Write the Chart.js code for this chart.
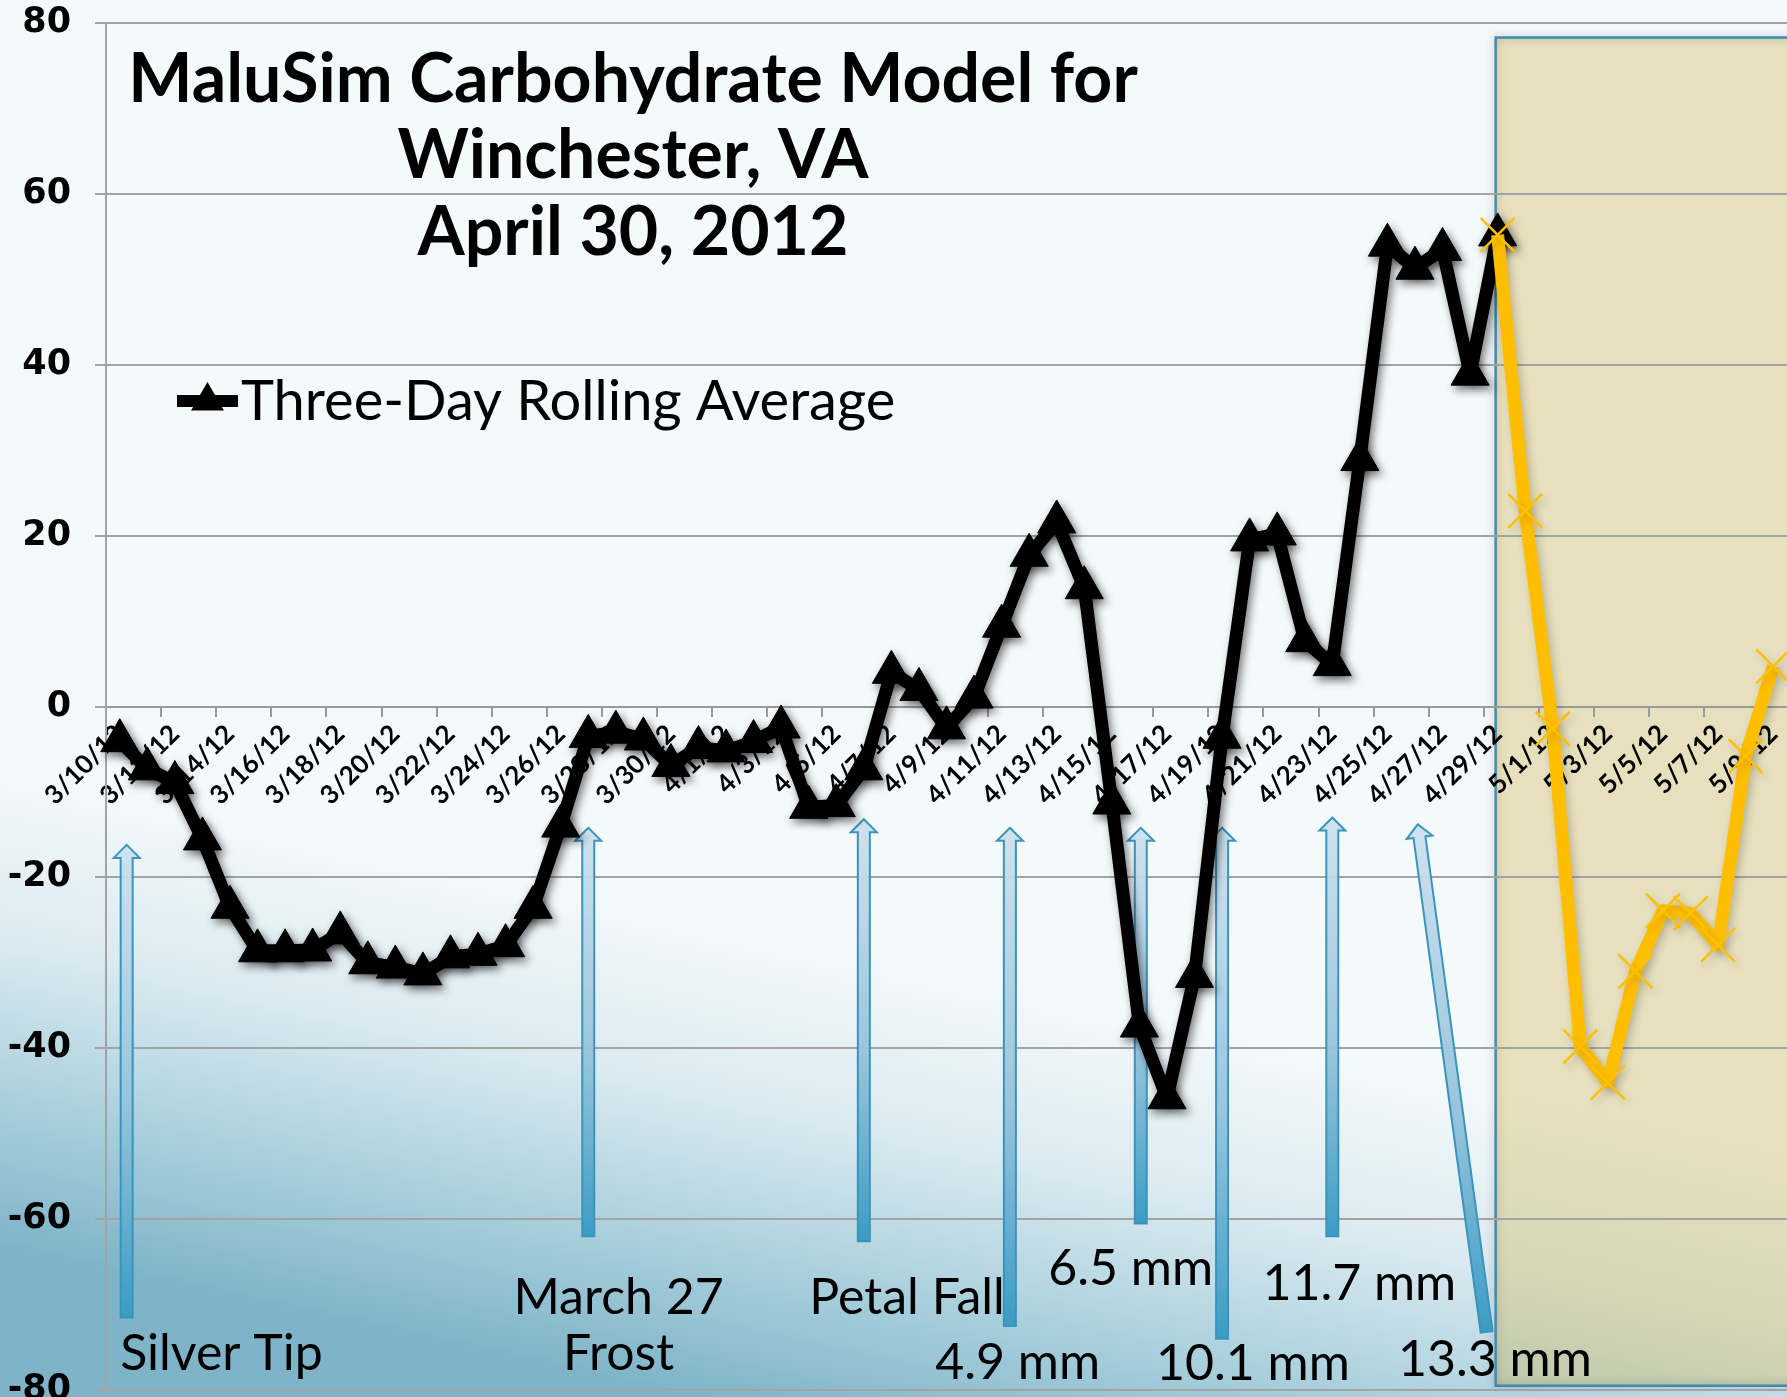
<!DOCTYPE html>
<html>
<head>
<meta charset="utf-8">
<title>MaluSim Carbohydrate Model for Winchester, VA</title>
<script src="https://cdn.jsdelivr.net/npm/chart.js@4.4.1/dist/chart.umd.min.js"></script>
<style>
    html, body { margin: 0; padding: 0; background: #f5f9fc; }
    #wrap { position: relative; width: 1787px; height: 1397px; }
</style>
</head>
<body>
<div id="wrap"><canvas id="ChartLine"></canvas></div>
<script>
const dates = [
    '3/10/12', '3/11/12', '3/12/12', '3/13/12', '3/14/12', '3/15/12', '3/16/12', '3/17/12',
    '3/18/12', '3/19/12', '3/20/12', '3/21/12', '3/22/12', '3/23/12', '3/24/12', '3/25/12',
    '3/26/12', '3/27/12', '3/28/12', '3/29/12', '3/30/12', '3/31/12',
    '4/1/12', '4/2/12', '4/3/12', '4/4/12', '4/5/12', '4/6/12', '4/7/12', '4/8/12',
    '4/9/12', '4/10/12', '4/11/12', '4/12/12', '4/13/12', '4/14/12', '4/15/12', '4/16/12',
    '4/17/12', '4/18/12', '4/19/12', '4/20/12', '4/21/12', '4/22/12', '4/23/12', '4/24/12',
    '4/25/12', '4/26/12', '4/27/12', '4/28/12', '4/29/12', '4/30/12',
    '5/1/12', '5/2/12', '5/3/12', '5/4/12', '5/5/12', '5/6/12', '5/7/12', '5/8/12', '5/9/12'
];

// 3/10 .. 4/29
const rollingAverage = [
    -4.0, -7.3, -8.9, -15.5, -23.5, -28.6, -28.6, -28.5, -26.5, -30.0,
    -30.5, -31.3, -29.3, -29.0, -28.0, -23.5, -14.0, -3.5, -3.0, -3.8,
    -6.9, -4.8, -5.2, -4.1, -2.4, -11.8, -11.6, -7.3, 4.0, 2.0,
    -2.5, 1.1, 9.4, 17.7, 21.6, 13.9, -11.3, -37.4, -45.8, -31.6,
    -3.6, 19.5, 20.2, 7.7, 4.9, 28.9, 54.0, 51.3, 53.5, 38.9,
    55.2
];

// 4/29 .. 5/9
const forecastFrom = '4/29/12';
const forecast = [55.2, 22.9, -2.6, -39.8, -44.0, -31.0, -23.9, -24.2, -27.9, -5.8, 4.7];

const yMin = -80;
const yMax = 80;
const yStep = 20;

const titleLines = ['MaluSim Carbohydrate Model for', 'Winchester, VA', 'April 30, 2012'];
const legendText = 'Three-Day Rolling Average';

// growth stage arrows: [tip category, tip value, tail category, tail value]
const stageArrows = [
    [0.25, -16.2, 0.25, -71.5],
    [17.0, -14.2, 17.0, -62.0],
    [27.0, -13.2, 27.0, -62.6],
    [32.3, -14.2, 32.3, -72.5],
    [37.05, -14.2, 37.05, -60.5],
    [40.0, -14.2, 40.0, -74.0],
    [44.0, -13.0, 44.0, -62.0],
    [47.1, -13.8, 49.6, -73.2]
];

// growth stage notes: [text, category, value]
const stageNotes = [
    ['Silver Tip', 3.69, -75.8],
    ['March 27', 18.1, -69.2],
    ['Frost', 18.1, -75.8],
    ['Petal Fall', 28.57, -69.2],
    ['6.5 mm', 36.68, -65.8],
    ['4.9 mm', 32.58, -76.8],
    ['11.7 mm', 44.98, -67.6],
    ['10.1 mm', 41.12, -77.0],
    ['13.3 mm', 49.9, -76.5]
];

const forecastIndex = dates.indexOf(forecastFrom);
const rollingData = dates.map((d, i) => i < rollingAverage.length ? rollingAverage[i] : null);
const forecastData = dates.map((d, i) => i >= forecastIndex ? forecast[i - forecastIndex] : null);

function drawArrow(ctx, x1, y1, x2, y2) {
    const len = Math.hypot(x2 - x1, y2 - y1);
    const ang = Math.atan2(y2 - y1, x2 - x1);
    const head = 13, hw = 13, sw = 6;
    ctx.save();
    ctx.translate(x1, y1);
    ctx.rotate(ang);
    ctx.beginPath();
    ctx.moveTo(0, 0);
    ctx.lineTo(head, -hw);
    ctx.lineTo(head, -sw);
    ctx.lineTo(len, -sw);
    ctx.lineTo(len, sw);
    ctx.lineTo(head, sw);
    ctx.lineTo(head, hw);
    ctx.closePath();
    const g = ctx.createLinearGradient(0, 0, len, 0);
    g.addColorStop(0, 'rgba(205,225,238,0.95)');
    g.addColorStop(0.55, 'rgba(150,195,220,0.95)');
    g.addColorStop(1, '#3a9cc4');
    ctx.fillStyle = g;
    ctx.fill();
    ctx.strokeStyle = '#3b94ba';
    ctx.lineWidth = 2;
    ctx.stroke();
    ctx.restore();
}

const slidePlugin = {
    id: 'slide',
    beforeDraw(chart) {
        const {ctx, width, height} = chart;
        const {x, y} = chart.scales;
        ctx.save();
        const g = ctx.createLinearGradient(900, 960, 800, 1420);
        g.addColorStop(0, '#f4f9fc');
        g.addColorStop(0.35, '#dcebf1');
        g.addColorStop(0.7, '#a9cfdc');
        g.addColorStop(1, '#7fb4c8');
        ctx.fillStyle = g;
        ctx.fillRect(0, 0, width, height);

        // forecast window
        const left = x.getPixelForValue(forecastIndex) - 2;
        const top = y.getPixelForValue(78.3);
        const bottom = y.getPixelForValue(-79.5);
        ctx.fillStyle = 'rgba(205,178,75,0.35)';
        ctx.fillRect(left, top, width - left + 10, bottom - top);
        ctx.shadowColor = 'rgba(0,0,0,0.3)';
        ctx.shadowBlur = 8;
        ctx.strokeStyle = '#3b8db0';
        ctx.lineWidth = 2.5;
        ctx.strokeRect(left, top, width - left + 10, bottom - top);
        ctx.restore();
    },
    beforeDatasetsDraw(chart) {
        const {ctx} = chart;
        const {x, y} = chart.scales;
        stageArrows.forEach(a => {
            drawArrow(ctx, x.getPixelForValue(a[0]), y.getPixelForValue(a[1]),
                x.getPixelForValue(a[2]), y.getPixelForValue(a[3]));
        });
    },
    beforeDatasetDraw(chart, args) {
        const ctx = chart.ctx;
        ctx.save();
        ctx.shadowColor = args.index === 1 ? 'rgba(0,0,0,0.5)' : 'rgba(0,0,0,0.2)';
        ctx.shadowBlur = 9;
        ctx.shadowOffsetX = 3;
        ctx.shadowOffsetY = 4;
    },
    afterDatasetDraw(chart) {
        chart.ctx.restore();
    },
    afterDraw(chart) {
        const {ctx} = chart;
        const {x, y} = chart.scales;
        ctx.save();
        ctx.fillStyle = '#000';

        // stage notes
        ctx.font = '50px Lato';
        ctx.textAlign = 'center';
        ctx.textBaseline = 'middle';
        stageNotes.forEach(n => {
            ctx.fillText(n[0], x.getPixelForValue(n[1]), y.getPixelForValue(n[2]));
        });

        // title
        ctx.font = 'bold 68px Lato';
        ctx.textBaseline = 'alphabetic';
        ctx.fillText(titleLines[0], 633, 102);
        ctx.fillText(titleLines[1], 633, 178);
        ctx.fillText(titleLines[2], 633, 255);

        // legend
        ctx.strokeStyle = '#000';
        ctx.lineWidth = 12;
        ctx.beginPath();
        ctx.moveTo(177, 401);
        ctx.lineTo(238, 401);
        ctx.stroke();
        const r = 19;
        ctx.beginPath();
        for (let k = 0; k < 3; k++) {
            const a = k * 2 * Math.PI / 3;
            const px = 207.5 + Math.sin(a) * r;
            const py = 401 - Math.cos(a) * r;
            if (k === 0) ctx.moveTo(px, py); else ctx.lineTo(px, py);
        }
        ctx.closePath();
        ctx.fill();
        ctx.font = '56px Lato';
        ctx.textAlign = 'left';
        ctx.fillText(legendText, 241, 420);
        ctx.restore();
    }
};

new Chart(document.getElementById('ChartLine'), {
    type: 'line',
    data: {
        labels: dates,
        datasets: [{
            label: 'Forecast',
            data: forecastData,
            borderColor: '#ffbf00',
            borderWidth: 13,
            borderJoinStyle: 'round',
            pointStyle: 'crossRot',
            pointRadius: 24,
            pointBorderColor: '#ffc000',
            pointBorderWidth: 2.5,
            clip: false,
            order: 0
        }, {
            label: legendText,
            data: rollingData,
            borderColor: '#000',
            backgroundColor: '#000',
            borderWidth: 13,
            borderJoinStyle: 'round',
            pointStyle: 'triangle',
            pointRadius: 22,
            pointBackgroundColor: '#000',
            pointBorderColor: '#000',
            pointBorderWidth: 1,
            clip: false,
            order: 1
        }]
    },
    options: {
        responsive: true,
        maintainAspectRatio: false,
        animation: false,
        events: [],
        layout: {
            autoPadding: false,
            padding: {top: 23, bottom: 7, left: 0, right: 0}
        },
        scales: {
            x: {
                position: {y: 0},
                offset: true,
                grid: {
                    offset: true,
                    drawOnChartArea: false,
                    tickLength: 9,
                    lineWidth: 2,
                    color: c => c.index % 2 === 0 ? '#9a9a9a' : 'rgba(0,0,0,0)'
                },
                border: {color: '#9a9a9a', width: 2},
                ticks: {
                    autoSkip: false,
                    minRotation: 45,
                    maxRotation: 45,
                    padding: 3,
                    color: '#000',
                    font: {family: 'Lato', weight: 'bold', size: 26},
                    callback: (v, i) => i % 2 === 0 ? dates[i] : ''
                },
                afterFit: s => {
                    s.paddingLeft = 0;
                    s.paddingRight = 0;
                }
            },
            y: {
                min: yMin,
                max: yMax,
                ticks: {
                    stepSize: yStep,
                    padding: 24,
                    color: '#000',
                    font: {family: 'DejaVu Sans', weight: 'bold', size: 35}
                },
                grid: {color: '#a3a3a3', lineWidth: 2, tickLength: 11},
                border: {color: '#a3a3a3', width: 2},
                afterFit: s => {
                    s.width = 106;
                    s.paddingTop = 0;
                    s.paddingBottom = 0;
                }
            }
        },
        plugins: {
            legend: {display: false},
            tooltip: {enabled: false}
        }
    },
    plugins: [slidePlugin]
});
</script>
</body>
</html>
